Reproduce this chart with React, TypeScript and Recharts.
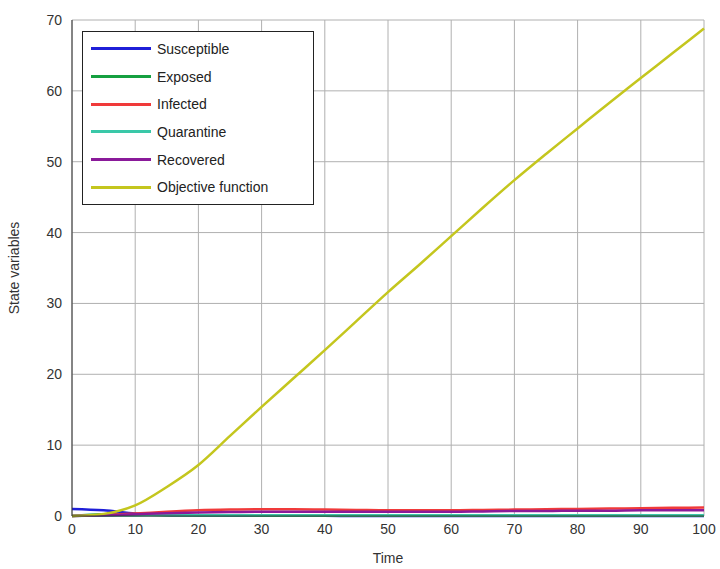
import { LineChart, Line, XAxis, YAxis, CartesianGrid } from 'recharts';

const time = [0, 5, 10, 15, 20, 25, 30, 35, 40, 45, 50, 55, 60, 65, 70, 75, 80, 85, 90, 95, 100];
const susceptible = [1.0, 0.8, 0.35, 0.15, 0.08, 0.05, 0.03, 0.02, 0.02, 0.01, 0.01, 0.01, 0.01, 0.01, 0.01, 0.01, 0.01, 0.01, 0.01, 0.01, 0.01];
const exposed = [0.0, 0.25, 0.2, 0.12, 0.08, 0.06, 0.05, 0.04, 0.04, 0.03, 0.03, 0.03, 0.03, 0.03, 0.03, 0.03, 0.03, 0.03, 0.03, 0.03, 0.03];
const infected = [0.0, 0.15, 0.35, 0.6, 0.8, 0.9, 0.95, 0.95, 0.9, 0.85, 0.8, 0.8, 0.8, 0.85, 0.9, 0.95, 1.0, 1.05, 1.1, 1.15, 1.2];
const quarantine = [0.0, 0.05, 0.08, 0.1, 0.1, 0.1, 0.1, 0.1, 0.1, 0.1, 0.1, 0.1, 0.1, 0.1, 0.1, 0.1, 0.1, 0.1, 0.1, 0.1, 0.1];
const recovered = [0.0, 0.1, 0.25, 0.4, 0.5, 0.55, 0.6, 0.6, 0.6, 0.6, 0.6, 0.6, 0.6, 0.65, 0.7, 0.7, 0.75, 0.75, 0.8, 0.8, 0.8];
const objective = [0.0, 0.3, 1.5, 4.1, 7.2, 11.3, 15.4, 19.4, 23.4, 27.5, 31.6, 35.5, 39.5, 43.5, 47.4, 51.1, 54.7, 58.3, 61.8, 65.3, 68.8];

const xTicks = [0, 10, 20, 30, 40, 50, 60, 70, 80, 90, 100];
const yTicks = [0, 10, 20, 30, 40, 50, 60, 70];

const series = [
  { key: 'susceptible', name: 'Susceptible', color: '#1f1fd8', values: susceptible },
  { key: 'exposed', name: 'Exposed', color: '#15a040', values: exposed },
  { key: 'infected', name: 'Infected', color: '#f03a3a', values: infected },
  { key: 'quarantine', name: 'Quarantine', color: '#3ac8a8', values: quarantine },
  { key: 'recovered', name: 'Recovered', color: '#8a1a9a', values: recovered },
  { key: 'objective', name: 'Objective function', color: '#c4c61e', values: objective },
];

const data = time.map((t, i) => {
  const row: Record<string, number> = { t };
  series.forEach((s) => (row[s.key] = s.values[i]));
  return row;
});

const font = 'Liberation Sans, Arial, sans-serif';

const LegendBox = () => (
  <div
    style={{
      position: 'absolute',
      left: 82,
      top: 31,
      width: 232,
      boxSizing: 'border-box',
      border: '1px solid #222',
      background: '#fff',
      padding: '3px 8px 3px 8px',
      fontFamily: font,
      fontSize: 14,
      color: '#222',
    }}
  >
    {series.map((s) => (
      <div key={s.key} style={{ display: 'flex', alignItems: 'center', height: 27.7 }}>
        <span style={{ display: 'inline-block', width: 60, height: 3, background: s.color, marginRight: 6 }} />
        {s.name}
      </div>
    ))}
  </div>
);

export default function App() {
  return (
    <div style={{ position: 'absolute', left: 0, top: 0, width: 720, height: 569, background: '#fff' }}>
      <LineChart width={720} height={569} data={data} margin={{ top: 20, right: 16, bottom: 0, left: 0 }}>
        <CartesianGrid stroke="#b0b0b0" strokeWidth={1} />
        <XAxis
          dataKey="t"
          type="number"
          domain={[0, 100]}
          ticks={xTicks}
          height={53}
          stroke="#333"
          tickSize={0}
          tickMargin={8}
          tick={{ fill: '#333', fontSize: 14, fontFamily: font }}
          label={{ value: 'Time', position: 'insideBottom', offset: 6, fill: '#333', fontSize: 14, fontFamily: font }}
        />
        <XAxis xAxisId="top" orientation="top" dataKey="t" type="number" domain={[0, 100]} ticks={xTicks} height={0} tick={false} tickSize={0} stroke="#333" />
        <YAxis
          type="number"
          domain={[0, 70]}
          ticks={yTicks}
          width={72}
          stroke="#333"
          tickSize={0}
          tickMargin={10}
          tick={{ fill: '#333', fontSize: 14, fontFamily: font }}
          label={{ value: 'State variables', angle: -90, position: 'insideLeft', offset: 14, fill: '#333', fontSize: 14, fontFamily: font, style: { textAnchor: 'middle' } }}
        />
        <YAxis yAxisId="right" orientation="right" domain={[0, 70]} ticks={yTicks} width={0} tick={false} tickSize={0} stroke="#333" />
        {series.map((s) => (
          <Line
            key={s.key}
            dataKey={s.key}
            name={s.name}
            type="monotone"
            stroke={s.color}
            strokeWidth={2.5}
            dot={false}
            isAnimationActive={false}
          />
        ))}
      </LineChart>
      <LegendBox />
    </div>
  );
}
